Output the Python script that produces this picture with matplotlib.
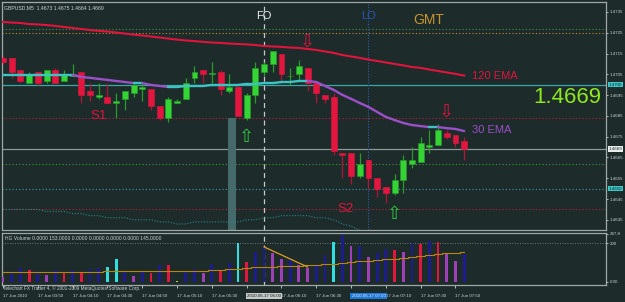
import matplotlib
matplotlib.use("Agg")
import matplotlib.pyplot as plt
from matplotlib.transforms import blended_transform_factory

plt.rcParams["font.family"] = ["Liberation Sans", "DejaVu Sans"]

BG = "#1d2b2b"
FG = "#ccd4d4"
FRAME = "#a0a8a8"
BULL = "#35d435"
BULL_WICK = "#2a9c2a"
BEAR = "#e2163f"
BEAR_WICK = "#b01535"
EMA_UP = "#3cc4c4"
EMA_DOWN = "#9b50c8"

# ---- price data (GBPUSD M5, 17 Jun 2010 03:30 .. 07:55) ----
opens = [1.4713, 1.4713, 1.4707, 1.4701, 1.4706, 1.4702, 1.4707, 1.4702, 1.4704, 1.4706,
         1.4697, 1.4694, 1.4694, 1.4691, 1.4693, 1.4696, 1.4698, 1.4698, 1.4690, 1.4684,
         1.4691, 1.4693, 1.4703, 1.4707, 1.4705, 1.4706, 1.4697, 1.4699, 1.4684, 1.4695,
         1.4706, 1.4710, 1.4715, 1.4704, 1.4705, 1.4708, 1.4701, 1.4695, 1.4694, 1.4667,
         1.4667, 1.4656, 1.4664, 1.4655, 1.4651, 1.4648, 1.4654, 1.4662, 1.4663, 1.4670,
         1.4671, 1.4677, 1.4676, 1.4673]
highs = [1.4714, 1.4713, 1.4707, 1.4706, 1.4706, 1.4707, 1.4708, 1.4707, 1.4710, 1.4706,
         1.4701, 1.4701, 1.4701, 1.4696, 1.4697, 1.4701, 1.4701, 1.4698, 1.4690, 1.4694,
         1.4693, 1.4703, 1.4709, 1.4707, 1.4711, 1.4707, 1.4705, 1.4700, 1.4696, 1.4711,
         1.4711, 1.4716, 1.4715, 1.4708, 1.4712, 1.4708, 1.4701, 1.4695, 1.4696, 1.4667,
         1.4667, 1.4667, 1.4664, 1.4655, 1.4651, 1.4657, 1.4666, 1.4670, 1.4675, 1.4678,
         1.4681, 1.4678, 1.4676, 1.4675]
lows = [1.4710, 1.4703, 1.4701, 1.4701, 1.4700, 1.4701, 1.4701, 1.4702, 1.4704, 1.4691,
        1.4692, 1.4693, 1.4691, 1.4684, 1.4688, 1.4694, 1.4692, 1.4688, 1.4683, 1.4682,
        1.4691, 1.4693, 1.4701, 1.4701, 1.4701, 1.4695, 1.4696, 1.4685, 1.4683, 1.4691,
        1.4704, 1.4706, 1.4701, 1.4700, 1.4702, 1.4697, 1.4691, 1.4691, 1.4666, 1.4655,
        1.4652, 1.4655, 1.4650, 1.4646, 1.4643, 1.4647, 1.4648, 1.4660, 1.4663, 1.4667,
        1.4671, 1.4674, 1.4670, 1.4664]
closes = [1.4711, 1.4706, 1.4702, 1.4705, 1.4701, 1.4707, 1.4701, 1.4705, 1.4705, 1.4695,
          1.4695, 1.4695, 1.4691, 1.4692, 1.4697, 1.4700, 1.4699, 1.4690, 1.4684, 1.4693,
          1.4692, 1.4701, 1.4706, 1.4705, 1.4705, 1.4698, 1.4699, 1.4685, 1.4695, 1.4708,
          1.4710, 1.4716, 1.4705, 1.4704, 1.4709, 1.4701, 1.4696, 1.4693, 1.4668, 1.4666,
          1.4656, 1.4662, 1.4655, 1.4650, 1.4648, 1.4654, 1.4664, 1.4664, 1.4672, 1.4671,
          1.4678, 1.4675, 1.4672, 1.4669]

ema120 = [1.47302, 1.47299, 1.47297, 1.47292, 1.47290, 1.47287, 1.47283, 1.47278, 1.47273, 1.47268,
          1.47263, 1.47259, 1.47256, 1.47251, 1.47246, 1.47241, 1.47237, 1.47232, 1.47227, 1.47222,
          1.47217, 1.47213, 1.47210, 1.47206, 1.47203, 1.47201, 1.47198, 1.47196, 1.47194, 1.47191,
          1.47186, 1.47184, 1.47182, 1.47179, 1.47177, 1.47172, 1.47167, 1.47160, 1.47153, 1.47143,
          1.47136, 1.47129, 1.47121, 1.47114, 1.47107, 1.47100, 1.47093, 1.47085, 1.47081, 1.47073,
          1.47066, 1.47059, 1.47052, 1.47044]
ema30 = [1.47047, 1.47047, 1.47047, 1.47047, 1.47047, 1.47047, 1.47047, 1.47047, 1.47047, 1.47037,
         1.47033, 1.47028, 1.47023, 1.47018, 1.47013, 1.47008, 1.47008, 1.46999, 1.46994, 1.46989,
         1.46989, 1.46994, 1.46994, 1.46994, 1.46999, 1.46999, 1.46999, 1.46999, 1.47004, 1.47004,
         1.47008, 1.47008, 1.47013, 1.47013, 1.47018, 1.47018, 1.47013, 1.46994, 1.46975, 1.46951,
         1.46932, 1.46912, 1.46893, 1.46869, 1.46845, 1.46830, 1.46816, 1.46806, 1.46801, 1.46796,
         1.46796, 1.46791, 1.46787, 1.46777]
lower_band = [1.4640, 1.4640, 1.4640, 1.4640, 1.4640, 1.4639, 1.4639, 1.4639, 1.4638, 1.4638,
              1.4637, 1.4637, 1.4636, 1.4636, 1.4636, 1.4635, 1.4635, 1.4635, 1.4634, 1.4634,
              1.4633, 1.4633, 1.4634, 1.4634, 1.4634, 1.4634, 1.4634, 1.4634, 1.4635, 1.4635,
              1.4636, 1.4636, 1.4637, 1.4637, 1.4637, 1.4637, 1.4636, 1.4636, 1.4635, 1.4633,
              1.4632, 1.4630, 1.4628]

# horizontal levels
level_prices = [1.4727, 1.4725, 1.4684, 1.4662, 1.4650, 1.4640]
level_colors = ["#3f9a3f", "#c8902a", "#c0203a", "#3f9a3f", "#3aa0b0", "#c0203a"]
cyan_level = 1.4700
last_price = 1.4669

volumes = [25, 51, 72, 62, 51, 36, 62, 51, 62, 51,
           72, 72, 77, 118, 51, 31, 56, 46, 87, 87,
           5, 51, 67, 46, 92, 62, 97, 200, 103, 154,
           180, 149, 118, 118, 87, 72, 92, 138, 205, 241,
           185, 185, 128, 149, 169, 164, 154, 200, 195, 210,
           205, 149, 108, 145]
vol_kind = ["m", "n", "n", "r", "n", "m", "n", "r", "n", "r",
            "n", "n", "c", "c", "n", "m", "n", "r", "n", "r",
            "y", "n", "n", "m", "n", "r", "n", "c", "r", "n",
            "n", "m", "m", "n", "m", "m", "n", "n", "c", "n",
            "m", "n", "m", "n", "n", "r", "m", "n", "r", "n",
            "r", "m", "m", "n"]
vol_ma = [52, 52, 52, 52, 52, 52, 52, 52, 52, 52,
          52, 52, 55, 55, 55, 55, 55, 55, 58, 58,
          58, 58, 58, 58, 62, 64, 66, 68, 72, 75,
          77, 79, 81, 82, 84, 85, 87, 90, 94, 98,
          103, 106, 110, 113, 117, 120, 123, 128, 133, 138,
          144, 147, 151, 154]

# time axis: bars with a tick every 20 min; labels hidden under the
# vertical-line date boxes (05:50, 06:50) are left out
tick_idx = [0, 4, 8, 12, 16, 20, 24, 28, 32, 36, 40, 44, 48, 52]
label_idx = [0, 4, 8, 12, 16, 20, 24, 32, 36, 44, 48, 52]
tick_labels = ["17 Jun 2010", "17 Jun 03:50", "17 Jun 04:10", "17 Jun 04:30", "17 Jun 04:50",
               "17 Jun 05:10", "17 Jun 05:30", "17 Jun 06:10", "17 Jun 06:30",
               "17 Jun 07:10", "17 Jun 07:30", "17 Jun 07:50"]
price_ticks = [1.4735, 1.4725, 1.4715, 1.4705, 1.4695, 1.4685, 1.4675, 1.4665, 1.4655, 1.4645, 1.4635]

VOL_COLORS = {"n": "#1c1c8c", "r": "#e2163f", "m": "#a040b8", "c": "#30e0e0", "y": "#c8d020"}

W, H = 625, 302


def px_box(x0, y0, x1, y1):
    return [x0 / W, 1 - y1 / H, (x1 - x0) / W, (y1 - y0) / H]


fig = plt.figure(figsize=(W / 100, H / 100), dpi=100, facecolor=BG)
ax = fig.add_axes(px_box(2, 2, 606, 230), facecolor=BG)
vax = fig.add_axes(px_box(2, 233, 606, 285), facecolor=BG, sharex=ax)

for a in (ax, vax):
    for s in a.spines.values():
        s.set_color(FRAME)
        s.set_linewidth(0.9)

ax.set_xlim(-0.12, 69.3)
ax.set_ylim(1.46301, 1.47398)
n = len(opens)
idx = list(range(n))

# levels
for p, c in zip(level_prices, level_colors):
    ax.axhline(p, color=c, lw=0.8, ls=(0, (1, 2)), zorder=1)
ax.axhline(cyan_level, color="#3aa8a8", lw=0.9, zorder=1)
ax.axhline(last_price, color="#8a9a9a", lw=0.9, zorder=1)

# shaded column + session lines
ax.fill_between([25.8, 26.8], 1.46301, 1.4684, color="#456a6a", lw=0, zorder=1)
for a in (ax, vax):
    a.axvline(30, color="#c8c8c8", lw=0.9, ls=(0, (4, 3)), zorder=2)
ax.axvline(42, color="#3060b0", lw=0.8, ls=(0, (1, 1.5)), zorder=2)

ax.plot(range(len(lower_band)), lower_band, color="#2a8a8a", lw=0.8, ls=(0, (1, 1.5)), zorder=2)

# candles
for i in idx:
    o, h, l, c = opens[i], highs[i], lows[i], closes[i]
    bull = c >= o
    ax.vlines(i, l, h, color=BULL_WICK if bull else BEAR_WICK, lw=0.9, zorder=3)
    body = max(abs(c - o), 0.00004)
    ax.bar(i, body, bottom=min(o, c), width=0.68, color=BULL if bull else BEAR,
           edgecolor=BULL_WICK if bull else BEAR, lw=0.4, zorder=4)

# moving averages
ax.plot(idx, ema120, color="#e0143c", lw=1.5, zorder=5)
for i in range(n - 1):
    col = EMA_UP if ema30[i + 1] >= ema30[i] else EMA_DOWN
    ax.plot([i, i + 1], [ema30[i], ema30[i + 1]], color=col, lw=1.7, zorder=5,
            solid_capstyle="round")

# annotations
ax.text(53.9, 1.4704, "120 EMA", color="#e0143c", fontsize=8, va="center")
ax.text(53.9, 1.4678, "30 EMA", color=EMA_DOWN, fontsize=8, va="center")
ax.text(60.9, 1.4694, "1.4669", color="#8ee81e", fontsize=16, va="center")
ax.text(30, 1.4733, "FO", color="#e8eeee", fontsize=8, ha="center", va="center")
ax.text(42, 1.4733, "LO", color="#2858b8", fontsize=8, ha="center", va="center")
ax.text(48.9, 1.4731, "GMT", color="#c8962a", fontsize=10, ha="center", va="center")
ax.text(11, 1.4685, "S1", color="#e0143c", fontsize=9.5, ha="center", va="center")
ax.text(39.4, 1.4640, "S2", color="#e0143c", fontsize=9.5, ha="center", va="center")
for xi, yi in [(35, 1.4721), (51, 1.4687)]:
    ax.text(xi, yi, "\u21e9", color="#e0143c", fontsize=13, ha="center", va="center",
            family=["DejaVu Sans"])
for xi, yi in [(28, 1.4675), (45, 1.4638)]:
    ax.text(xi, yi, "\u21e7", color="#2ecc40", fontsize=13, ha="center", va="center",
            family=["DejaVu Sans"])

# price axis
ax.yaxis.tick_right()
ax.set_yticks(price_ticks)
ax.set_yticklabels([f"{t:.4f}" for t in price_ticks], fontsize=3.2, color=FG)
ax.tick_params(axis="y", length=1.5, width=0.6, color=FG, pad=1)
ax.tick_params(axis="x", bottom=False, labelbottom=False)
tr = blended_transform_factory(ax.transAxes, ax.transData)
for p, fc in [(cyan_level, "#3cc8c8"), (last_price, "#e8ecec"), (1.4650, "#3cc8c8")]:
    ax.text(1.005, p, f"{p:.4f}", transform=tr, fontsize=3.2, color="#102020", va="center",
            ha="left", clip_on=False,
            bbox=dict(boxstyle="square,pad=0.15", fc=fc, ec="none"))

ax.text(0.004, 0.985, "GBPUSD,M5  1.4673 1.4675 1.4664 1.4669", transform=ax.transAxes,
        fontsize=3.7, color=FG, va="top")

# volume panel
vax.set_ylim(-15.4, 251.3)
vax.bar(idx, volumes, width=0.32, color=[VOL_COLORS[k] for k in vol_kind], zorder=3)
vax.plot(idx, vol_ma, color="#b8860b", lw=0.8, drawstyle="steps-mid", zorder=4)
vax.plot([30, 35], [180, 77], color="#e0a020", lw=0.9, zorder=4)
vax.axhline(200, color="#8a9494", lw=0.6, ls=(0, (1, 2)), zorder=1)
vax.yaxis.tick_right()
vax.set_yticks([247.8, 200, 0])
vax.set_yticklabels(["247.8", "200", "0.00"], fontsize=3.2, color=FG)
vax.tick_params(axis="y", length=1.5, width=0.6, color=FG, pad=1)
vax.set_xticks(tick_idx)
vax.tick_params(axis="x", length=2, width=0.6, color=FG, labelbottom=False)
vax.text(0.005, 0.9, "HG Volume 0.0000 153.0000 0.0000 0.0000 0.0000 0.0000 145.0000",
         transform=vax.transAxes, fontsize=3.6, color=FG, va="center")

fig.text(3 / W, 1 - 288 / H, "Telechart FX Trader 4, \u00a9 2001-2009 MetaQuotes Software Corp.",
         fontsize=3.4, color=FG, va="center")

# time axis labels
ttr = blended_transform_factory(vax.transData, fig.transFigure)
ty = 1 - 296 / H
for k, lab in zip(label_idx, tick_labels):
    vax.text(k, ty, lab, transform=ttr, fontsize=3.2, color=FG, ha="left", va="center",
             clip_on=False)
vax.text(30, ty, "2010.06.17 06:00", transform=ttr, fontsize=3.2, color="#101818",
         ha="center", va="center", clip_on=False, zorder=6,
         bbox=dict(boxstyle="square,pad=0.25", fc="#c4c8c8", ec="none"))
vax.text(42, ty, "2010.06.17 07:00", transform=ttr, fontsize=3.2, color="#e8f0ff",
         ha="center", va="center", clip_on=False, zorder=6,
         bbox=dict(boxstyle="square,pad=0.25", fc="#1e78d8", ec="none"))

fig.savefig("out.png", dpi=100, facecolor=BG)
